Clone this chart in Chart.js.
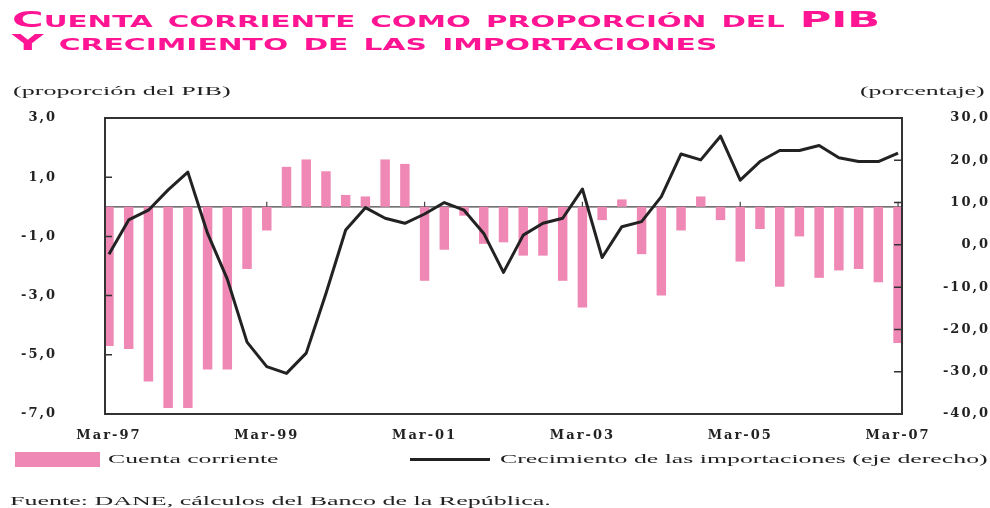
<!DOCTYPE html>
<html>
<head>
<meta charset="utf-8">
<script src="https://cdn.jsdelivr.net/npm/chart.js@4.4.1/dist/chart.umd.min.js"></script>
<style>
  html, body { margin: 0; padding: 0; background: #fff; }
  #wrap { position: relative; width: 990px; height: 508px; overflow: hidden; background: #fff; }
  #chart { position: absolute; left: 0; top: 0; }
  .txt { position: absolute; white-space: nowrap; transform-origin: 0 0; display: inline-block; }
  .title { font-family: 'DejaVu Sans', sans-serif; font-weight: bold; font-variant: small-caps; font-size: 22px; line-height: 22px; color: #ff1493; }
  .serif { font-family: 'Liberation Serif', serif; font-size: 13px; line-height: 13px; color: #222; }
  .swatch { position: absolute; }
</style>
</head>
<body>
<div id="wrap">
  <canvas id="chart" width="990" height="508"></canvas>

  <div class="txt title" data-w="868" style="left:12px;top:9px">Cuenta corriente como proporción del PIB</div>
  <div class="txt title" data-w="706" style="left:12px;top:32px">Y crecimiento de las importaciones</div>

  <div class="txt serif" data-w="217" style="left:13px;top:84px">(proporción del PIB)</div>
  <div class="txt serif" data-w="125" style="left:860px;top:84px">(porcentaje)</div>

  <div class="swatch" style="left:15px;top:452px;width:85px;height:15px;background:#f088b6"></div>
  <div class="txt serif" data-w="170" style="left:108px;top:452px">Cuenta corriente</div>
  <div class="swatch" style="left:410px;top:458px;width:80px;height:3px;background:#222"></div>
  <div class="txt serif" data-w="488" style="left:500px;top:452px">Crecimiento de las importaciones (eje derecho)</div>

  <div class="txt serif" data-w="540" style="left:10px;top:494px">Fuente: DANE, cálculos del Banco de la República.</div>
</div>

<script>
// trimestres
const quarters = ['Mar-97','Jun-97','Sep-97','Dic-97','Mar-98','Jun-98','Sep-98','Dic-98',
  'Mar-99','Jun-99','Sep-99','Dic-99','Mar-00','Jun-00','Sep-00','Dic-00',
  'Mar-01','Jun-01','Sep-01','Dic-01','Mar-02','Jun-02','Sep-02','Dic-02',
  'Mar-03','Jun-03','Sep-03','Dic-03','Mar-04','Jun-04','Sep-04','Dic-04',
  'Mar-05','Jun-05','Sep-05','Dic-05','Mar-06','Jun-06','Sep-06','Dic-06','Mar-07'];

// cuenta corriente (% del PIB), eje izquierdo
const cuentaCorriente = [-4.7, -4.8, -5.9, -6.8, -6.8, -5.5, -5.5, -2.1, -0.8, 1.35,
  1.6, 1.2, 0.4, 0.35, 1.6, 1.45, -2.5, -1.45, -0.3, -1.25,
  -1.2, -1.65, -1.65, -2.5, -3.4, -0.45, 0.25, -1.6, -3.0, -0.8,
  0.35, -0.45, -1.85, -0.75, -2.7, -1.0, -2.4, -2.15, -2.1, -2.55, -4.6];

// crecimiento de las importaciones (%), eje derecho
const crecimientoImportaciones = [-2.2, 5.9, 8.2, 13.0, 17.2, 2.7, -8.1, -23.0, -28.8, -30.4,
  -25.6, -11.5, 3.5, 8.8, 6.3, 5.1, 7.3, 10.0, 8.2, 2.7,
  -6.5, 2.3, 5.1, 6.3, 13.2, -3.0, 4.3, 5.5, 11.4, 21.5,
  20.1, 25.7, 15.3, 19.7, 22.3, 22.3, 23.5, 20.6, 19.7, 19.7, 21.7];

const xTickLabels = ['Mar-97','Mar-99','Mar-01','Mar-03','Mar-05','Mar-07'];
const leftTicks = [3, 1, -1, -3, -5, -7];
const rightTicks = [30, 20, 10, 0, -10, -20, -30, -40];

function fmt(v) {
  return v.toFixed(1).replace('.', ',');
}

// marco, linea de cero y marcas hacia adentro
const framePlugin = {
  id: 'framePlugin',
  beforeDraw(chart) {
    chart.ctx.letterSpacing = '2px';
  },
  beforeDatasetsDraw(chart) {
    const ctx = chart.ctx;
    const a = chart.chartArea;
    const sx = chart.scales.x, sy = chart.scales.y;
    const y0 = sy.getPixelForValue(0);
    ctx.save();
    ctx.strokeStyle = '#444';
    ctx.lineWidth = 1.2;
    ctx.beginPath();
    ctx.moveTo(a.left, y0);
    ctx.lineTo(a.right, y0);
    sx.ticks.forEach(t => {
      if (t.value === 0) return;
      const x = sx.getPixelForValue(t.value);
      ctx.moveTo(x, y0);
      ctx.lineTo(x, y0 - 5);
    });
    ctx.stroke();
    ctx.restore();
  },
  afterDatasetsDraw(chart) {
    const ctx = chart.ctx;
    const a = chart.chartArea;
    const sy = chart.scales.y, sy1 = chart.scales.y1;
    ctx.save();
    ctx.strokeStyle = '#333';
    ctx.lineWidth = 2;
    ctx.strokeRect(a.left, a.top, a.right - a.left, a.bottom - a.top);
    ctx.lineWidth = 1.5;
    ctx.beginPath();
    sy.ticks.forEach(t => {
      const y = sy.getPixelForValue(t.value);
      ctx.moveTo(a.left, y);
      ctx.lineTo(a.left + 7, y);
    });
    sy1.ticks.forEach(t => {
      const y = sy1.getPixelForValue(t.value);
      ctx.moveTo(a.right - 8, y);
      ctx.lineTo(a.right, y);
    });
    ctx.stroke();
    ctx.restore();
  },
  afterDraw(chart) {
    chart.ctx.letterSpacing = '0px';
  }
};

const tickFont = { family: 'DejaVu Serif', size: 13, weight: 'bold' };

const myChart = new Chart(document.getElementById('chart').getContext('2d'), {
  type: 'bar',
  data: {
    datasets: [{
      type: 'line',
      label: 'Crecimiento de las importaciones (eje derecho)',
      data: crecimientoImportaciones.map((v, i) => ({ x: i, y: v })),
      yAxisID: 'y1',
      borderColor: '#222',
      borderWidth: 3,
      borderJoinStyle: 'round',
      pointRadius: 0,
      tension: 0,
      order: 1
    }, {
      type: 'bar',
      label: 'Cuenta corriente',
      data: cuentaCorriente.map((v, i) => ({ x: i, y: v })),
      yAxisID: 'y',
      backgroundColor: '#f088b6',
      categoryPercentage: 1,
      barPercentage: 0.48,
      order: 2
    }]
  },
  options: {
    responsive: false,
    animation: false,
    layout: { padding: { top: 118, bottom: 54, left: 0, right: 0 } },
    plugins: {
      legend: { display: false },
      tooltip: { enabled: false }
    },
    scales: {
      x: {
        type: 'linear',
        offset: false,
        min: -0.2,
        max: 40.2,
        grid: { display: false, drawTicks: false, offset: false },
        border: { display: false },
        afterBuildTicks: s => { s.ticks = xTickLabels.map(l => ({ value: quarters.indexOf(l) })); },
        afterFit: s => { s.height = 40; },
        ticks: {
          autoSkip: false,
          maxRotation: 0,
          padding: 14,
          color: '#222',
          font: tickFont,
          callback: v => quarters[v]
        }
      },
      y: {
        position: 'left',
        min: -7,
        max: 3,
        grid: { display: false, drawTicks: false },
        border: { display: false },
        afterBuildTicks: s => { s.ticks = leftTicks.map(v => ({ value: v })); },
        afterFit: s => { s.width = 105; },
        ticks: { padding: 48, color: '#222', font: tickFont, callback: v => fmt(v) }
      },
      y1: {
        position: 'right',
        min: -40,
        max: 30,
        grid: { display: false, drawTicks: false },
        border: { display: false },
        afterBuildTicks: s => { s.ticks = rightTicks.map(v => ({ value: v })); },
        afterFit: s => { s.width = 88; },
        ticks: { crossAlign: 'far', color: '#222', font: tickFont, callback: v => fmt(v) }
      }
    }
  },
  plugins: [framePlugin]
});

// estirar los textos al ancho del original
function fitText() {
  document.querySelectorAll('.txt').forEach(el => {
    el.style.transform = 'none';
    const w = parseFloat(el.dataset.w);
    el.style.transform = 'scaleX(' + (w / el.offsetWidth) + ')';
  });
}
fitText();
document.fonts.ready.then(fitText);
</script>
</body>
</html>
